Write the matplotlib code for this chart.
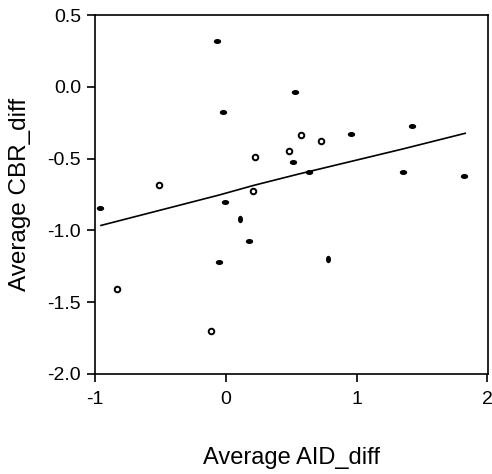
import numpy as np
import matplotlib
matplotlib.use("Agg")
import matplotlib.pyplot as plt

plt.rcParams['font.family'] = ['Liberation Sans', 'DejaVu Sans']

# Filled markers (horizontal ellipses)
filled_x = [-0.069, 0.527, -0.023, 1.42, 0.954, 0.511, 0.634, 1.351, 1.824,
            -0.962, -0.008, 0.176, -0.053]
filled_y = [0.321, -0.038, -0.177, -0.274, -0.330, -0.525, -0.594, -0.594, -0.622,
            -0.847, -0.805, -1.070, -1.222]

# Filled markers (vertical ellipses)
filled_v_x = [0.107, 0.779]
filled_v_y = [-0.923, -1.202]

# Open markers
open_x = [0.573, 0.725, 0.481, 0.221, -0.511, 0.206, -0.832, -0.115]
open_y = [-0.337, -0.379, -0.448, -0.490, -0.684, -0.726, -1.410, -1.702]

# Fit line
fit_x = [-0.954, -0.046, 0.209, 0.552, 1.354, 1.83]
fit_y = [-0.965, -0.752, -0.687, -0.608, -0.432, -0.323]

xticks = [-1, 0, 1, 2]
yticks = [-2.0, -1.5, -1.0, -0.5, 0.0, 0.5]

# ellipse marker shapes
t = np.linspace(0, 2 * np.pi, 40)
ell_h = np.column_stack([np.cos(t), 0.6 * np.sin(t)])
ell_v = np.column_stack([0.6 * np.cos(t), np.sin(t)])

fig = plt.figure(figsize=(4.92, 4.74), dpi=100)
ax = fig.add_axes([0.193, 0.211, 0.799, 0.757])

ax.plot(fit_x, fit_y, color='black', linewidth=1.2, zorder=2)
ax.plot(filled_x, filled_y, linestyle='none', marker=ell_h, markersize=4.3,
        color='black', zorder=3)
ax.plot(filled_v_x, filled_v_y, linestyle='none', marker=ell_v, markersize=4.3,
        color='black', zorder=3)
ax.plot(open_x, open_y, linestyle='none', marker='o', markersize=4,
        markerfacecolor='white', markeredgecolor='black', markeredgewidth=1.4,
        zorder=3)

ax.set_xlim(-1, 2.005)
ax.set_ylim(-2, 0.5)
ax.set_xticks(xticks)
ax.set_yticks(yticks)
ax.set_xticklabels([str(v) for v in xticks])
ax.set_yticklabels(['%.1f' % v for v in yticks])
ax.tick_params(direction='out', length=6, width=1.2, labelsize=14, pad=4)
ax.tick_params(axis='x', pad=6)
for s in ax.spines.values():
    s.set_linewidth(1.2)

ax.set_xlabel('Average AID_diff', fontsize=17)
ax.set_ylabel('Average CBR_diff', fontsize=17.5)
ax.xaxis.label.set_va('center')
ax.yaxis.label.set_va('center')
ax.xaxis.set_label_coords(0.5, -0.234)
ax.yaxis.set_label_coords(-0.19, 0.5)

fig.savefig('out.png', dpi=100)
